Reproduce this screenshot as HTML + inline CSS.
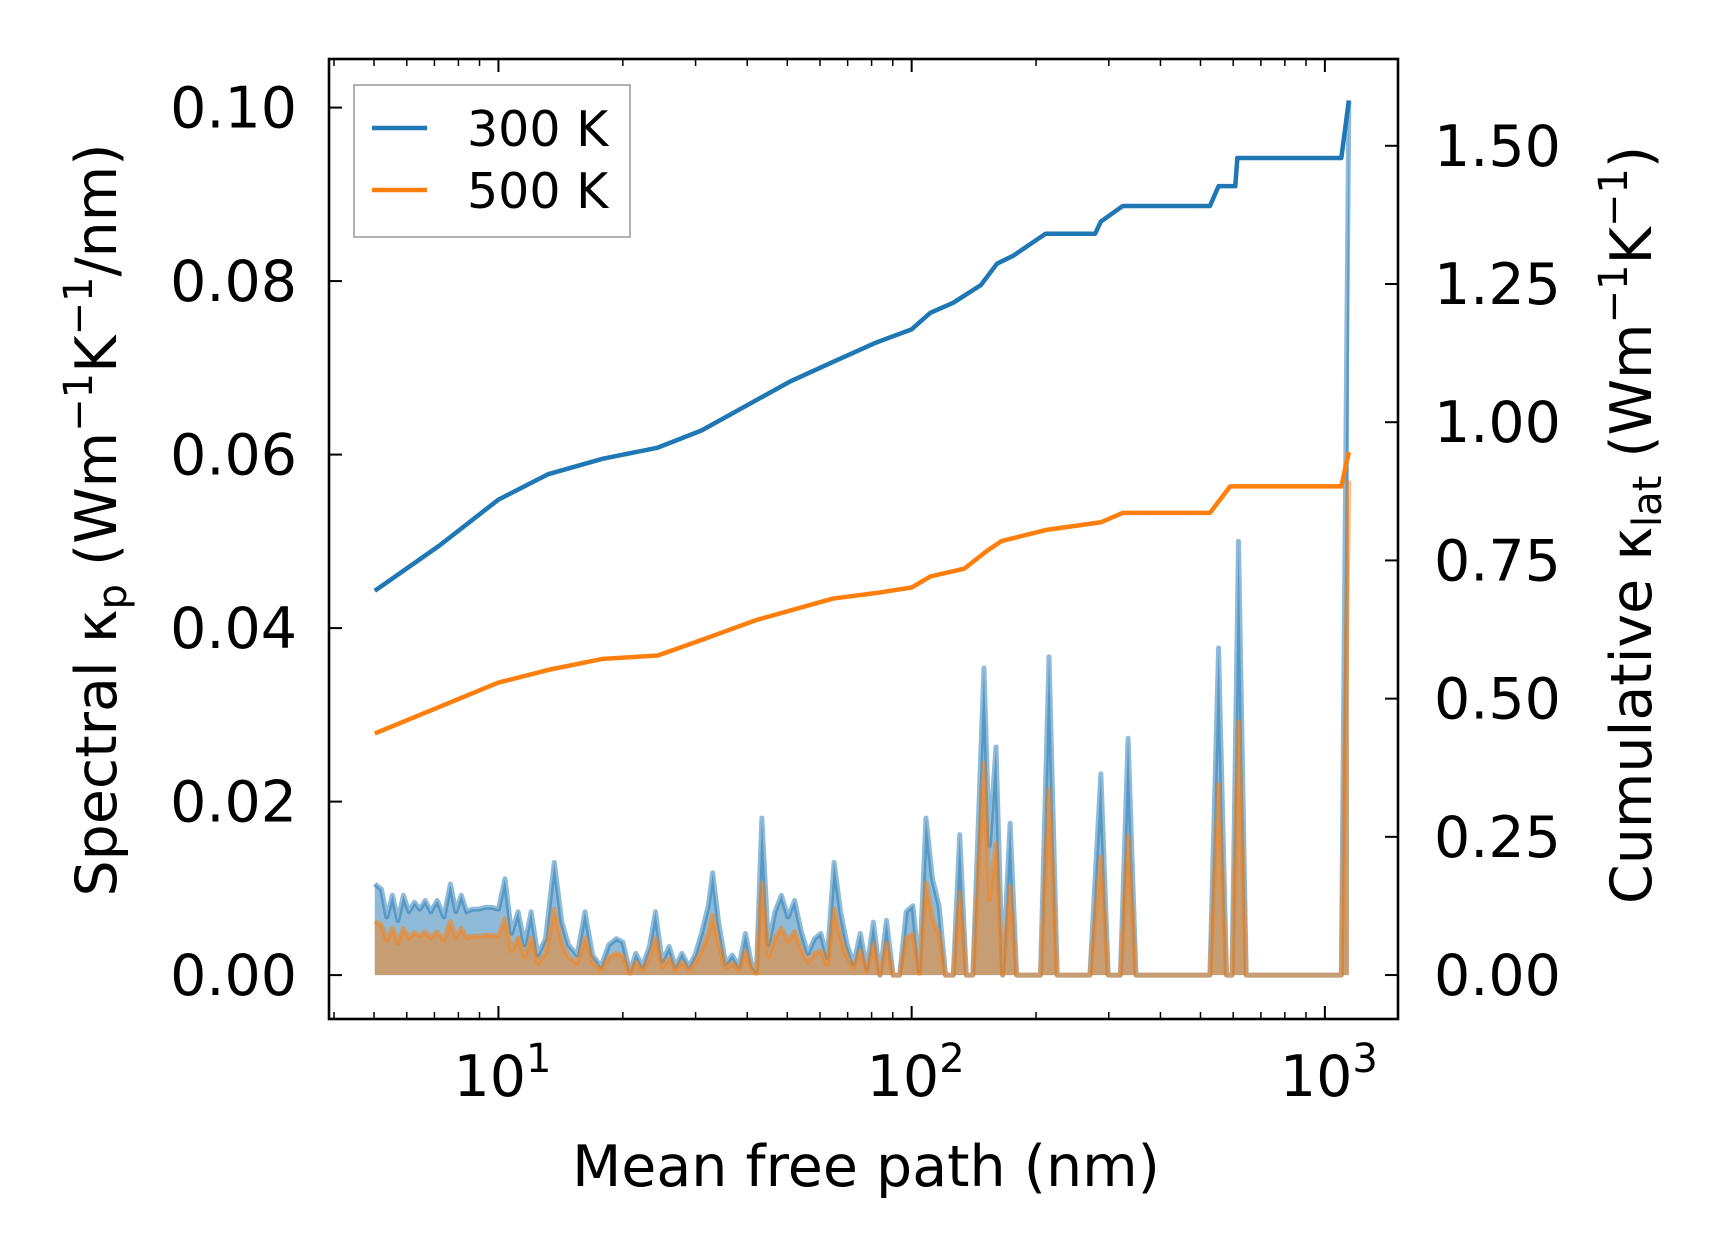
<!DOCTYPE html>
<html><head><meta charset="utf-8"><style>
html,body{margin:0;padding:0;background:#fff;}
svg{display:block;font-family:"DejaVu Sans","Liberation Sans",sans-serif;}
</style></head><body>
<svg id="chart" width="1716" height="1254" viewBox="0 0 1716 1254" xmlns="http://www.w3.org/2000/svg">
<g id="plot"></g>
</svg>
<script>
const specX = [5.02,5.21,5.37,5.54,5.71,5.89,6.07,6.26,6.45,6.65,6.86,7.11,7.38,7.65,7.89,8.13,8.38,8.64,8.96,9.29,9.64,10,10.37,10.76,11.16,11.57,12.0,12.45,13.0,13.65,14.24,14.77,15.5,16.2,16.9,17.7,18.5,19.3,20.0,20.8,21.5,22.3,23.2,24.0,24.9,25.9,26.8,27.8,28.9,29.9,31.0,32.2,33.0,34.1,35.5,36.8,38.2,39.6,41.1,42.1,43.4,45.0,46.7,48.4,50.2,52.1,54.0,56.1,58.2,60.3,62.5,64.9,67.3,69.8,72.4,75.1,77.9,80.8,83.8,86.9,90.2,93.5,97.0,100.7,104.4,108.3,112.3,116.5,120.8,126.1,130.7,135.6,140.6,149.6,154.2,160.0,166.0,173.1,179.5,205,215,225,270,287,299,320,334,349,527,553,578,596,618,645,1096,1143];
const spec300 = [10.5,9.9,6.7,9.2,6.3,9.2,7.3,8.4,7.6,8.6,7.3,8.6,6.7,10.5,7.3,9.2,7.3,7.6,7.6,7.8,7.8,7.6,11.1,4.8,7.3,3.5,7.3,2.3,4.2,13.0,6.1,3.5,2.3,7.3,2.3,1.0,3.5,4.2,3.8,0.4,2.5,1.0,3.3,7.3,1.6,3.3,1.0,2.5,1.0,2.3,4.8,8.0,11.8,6.1,1.3,2.3,1.0,4.8,1.0,0.4,18.1,3.5,7.3,9.2,6.7,8.6,5.1,2.5,4.2,4.8,2.0,13.0,7.3,3.5,1.3,4.8,0.8,6.1,0,6.3,0,0,7.3,8.0,0.4,18.1,11.1,8.0,0,0,16.2,0,0,35.4,14.9,26.3,0,17.5,0,0,36.7,0,0,23.2,0,0,27.3,0,0,37.7,0,0,50.0,0,0,100.8];
const spec500 = [6.2,5.8,4.0,5.4,3.7,5.4,4.3,4.9,4.5,5.0,4.3,5.0,4.0,6.2,4.3,5.4,4.3,4.5,4.5,4.6,4.6,4.5,6.5,2.8,4.3,2.1,4.3,1.4,2.5,7.6,3.6,2.1,1.4,4.3,1.4,0.6,2.1,2.5,2.2,0.2,1.5,0.6,1.9,4.3,0.9,1.9,0.6,1.5,0.6,1.4,2.8,4.7,6.9,3.6,0.8,1.4,0.6,2.8,0.6,0.2,10.6,2.1,4.3,5.4,3.9,5.0,3.0,1.5,2.5,2.8,1.2,7.6,4.3,2.1,0.8,2.8,0.5,3.6,0,3.7,0,0,4.3,4.7,0.2,10.6,6.5,4.7,0,0,9.5,0,0,24.4,8.7,15.2,0,10.2,0,0,21.4,0,0,13.6,0,0,16.0,0,0,22.0,0,0,29.2,0,0,57.0];
const cumX300 = [5.02,7.2,10,13.2,17.9,24.3,31,39.6,50.6,64.5,82,100,111,126,147,161,176,211,278,287,324,527,553,607,614,1096,1143];
const cum300 = [0.695,0.777,0.860,0.906,0.934,0.954,0.985,1.029,1.073,1.109,1.144,1.168,1.198,1.216,1.248,1.287,1.301,1.341,1.341,1.363,1.391,1.391,1.427,1.427,1.478,1.478,1.582];
const cumX500 = [5.02,10,13.2,17.9,24.3,31,42,64.5,82,100,111,134,152,165,211,287,324,527,590,1096,1143];
const cum500 = [0.437,0.529,0.552,0.572,0.578,0.606,0.642,0.681,0.691,0.701,0.721,0.735,0.767,0.785,0.805,0.819,0.836,0.836,0.884,0.884,0.946];
const leftTicks = [0.00,0.02,0.04,0.06,0.08,0.10];
const leftTickLabels = ["0.00","0.02","0.04","0.06","0.08","0.10"];
const rightTicks = [0,0.25,0.5,0.75,1.0,1.5,1.25];
const rightTickLabels = ["0.00","0.25","0.50","0.75","1.00","1.50","1.25"];
const xTicks = [10,100,1000];
const xTickExps = ["1","2","3"];

const L=329,R=1398,T=59,B=1019;
const xmin=Math.log10(3.89), xmax=Math.log10(1503);
const X=v=>L+(Math.log10(v)-xmin)/(xmax-xmin)*(R-L);
const yl0=-0.00506, yl1=0.1056;
const YL=v=>B-(v-yl0)/(yl1-yl0)*(B-T);
const yr0=-0.0795, yr1=1.657;
const YR=v=>B-(v-yr0)/(yr1-yr0)*(B-T);
const NS="http://www.w3.org/2000/svg";
const g=document.getElementById('plot');
function mk(tag,attrs,parent){const e=document.createElementNS(NS,tag);for(const k in attrs)e.setAttribute(k,attrs[k]);(parent||g).appendChild(e);return e;}

const clip=mk('clipPath',{id:'cp'});mk('rect',{x:L,y:T,width:R-L,height:B-T},clip);
const dg=mk('g',{'clip-path':'url(#cp)'});

function area(xs,ys,color,name){
  let d=`M${X(xs[0])},${YL(0)}`;
  xs.forEach((x,i)=>d+=` L${X(x)},${YL(ys[i]/1000)}`);
  d+=` L${X(xs[xs.length-1])},${YL(0)} Z`;
  const a=mk('path',{d:d,fill:color,'fill-opacity':0.5,stroke:'none'},dg);
  
  
  let ld='';xs.forEach((x,i)=>ld+=(i?' L':'M')+X(x)+','+YL(ys[i]/1000));
  const l=mk('path',{d:ld,fill:'none',stroke:color,'stroke-opacity':0.5,'stroke-width':5,'stroke-linejoin':'round'},dg);
  
  
}
area(specX,spec300,'#1f77b4','spectral-300k');
area(specX,spec500,'#ff7f0e','spectral-500k');

function cum(xs,ys,color,name){
  let d='';xs.forEach((x,i)=>d+=(i?' L':'M')+X(x)+','+YR(ys[i]));
  const l=mk('path',{d:d,fill:'none',stroke:color,'stroke-width':4.5,'stroke-linejoin':'round'},dg);
  
  
}
cum(cumX300,cum300,'#1f77b4','cumulative-300k');
cum(cumX500,cum500,'#ff7f0e','cumulative-500k');

const fr=mk('rect',{x:L,y:T,width:R-L,height:B-T,fill:'none',stroke:'#000','stroke-width':2.6});



leftTicks.forEach((v,i)=>{
  const y=YL(v);
  mk('line',{x1:L,x2:L+13,y1:y,y2:y,stroke:'#000','stroke-width':2});
  const t=mk('text',{x:297,y:y+20,'text-anchor':'end','font-size':57,fill:'#000'});
  t.textContent=leftTickLabels[i];
  
  
});
rightTicks.forEach((v,i)=>{
  const y=YR(v);
  mk('line',{x1:R-13,x2:R,y1:y,y2:y,stroke:'#000','stroke-width':2});
  const t=mk('text',{x:1434,y:y+20,'text-anchor':'start','font-size':57,fill:'#000'});
  t.textContent=rightTickLabels[i];
  
  
});
for(let dec=0;dec<=3;dec++){
  for(let m=1;m<10;m++){
    const v=m*Math.pow(10,dec);
    if(v<3.89||v>1503)continue;
    const x=X(v), len=m===1?13:7;
    mk('line',{x1:x,x2:x,y1:B,y2:B-len,stroke:'#000','stroke-width':m===1?2:1.5});
    mk('line',{x1:x,x2:x,y1:T,y2:T+len,stroke:'#000','stroke-width':m===1?2:1.5});
  }
}
xTicks.forEach((v,i)=>{
  const t=mk('text',{x:X(v)+4,y:1096,'text-anchor':'middle','font-size':57,fill:'#000'});
  
  
  t.innerHTML='10<tspan dy="-24" font-size="40">'+xTickExps[i]+'</tspan>';
});
</script>
<svg style="position:absolute;left:0;top:0" width="1716" height="1254">
<text x="866" y="1186" text-anchor="middle" font-size="57" font-family="DejaVu Sans, Liberation Sans, sans-serif">Mean free path (nm)</text>
<text transform="translate(116,520) rotate(-90)" text-anchor="middle" font-size="57" font-family="DejaVu Sans, Liberation Sans, sans-serif">Spectral κ<tspan dy="10" font-size="40">p</tspan><tspan dy="-10"> (Wm</tspan><tspan dy="-24" font-size="40">−1</tspan><tspan dy="24">K</tspan><tspan dy="-24" font-size="40">−1</tspan><tspan dy="24">/nm)</tspan></text>
<text transform="translate(1651,525) rotate(-90)" text-anchor="middle" font-size="57" font-family="DejaVu Sans, Liberation Sans, sans-serif">Cumulative κ<tspan dy="10" font-size="40">lat</tspan><tspan dy="-10"> (Wm</tspan><tspan dy="-24" font-size="40">−1</tspan><tspan dy="24">K</tspan><tspan dy="-24" font-size="40">−1</tspan><tspan dy="24">)</tspan></text>
<g>
<rect x="354" y="85" width="276" height="152" fill="#fff" fill-opacity="0.8" stroke="#999" stroke-width="1.5"/>
<line x1="372" x2="427" y1="128" y2="128" stroke="#1f77b4" stroke-width="4.5"/>
<text x="467" y="146" font-size="49" font-family="DejaVu Sans, Liberation Sans, sans-serif">300 K</text>
<line x1="372" x2="427" y1="190" y2="190" stroke="#ff7f0e" stroke-width="4.5"/>
<text x="467" y="208" font-size="49" font-family="DejaVu Sans, Liberation Sans, sans-serif">500 K</text>
</g>
</svg>
</body></html>
